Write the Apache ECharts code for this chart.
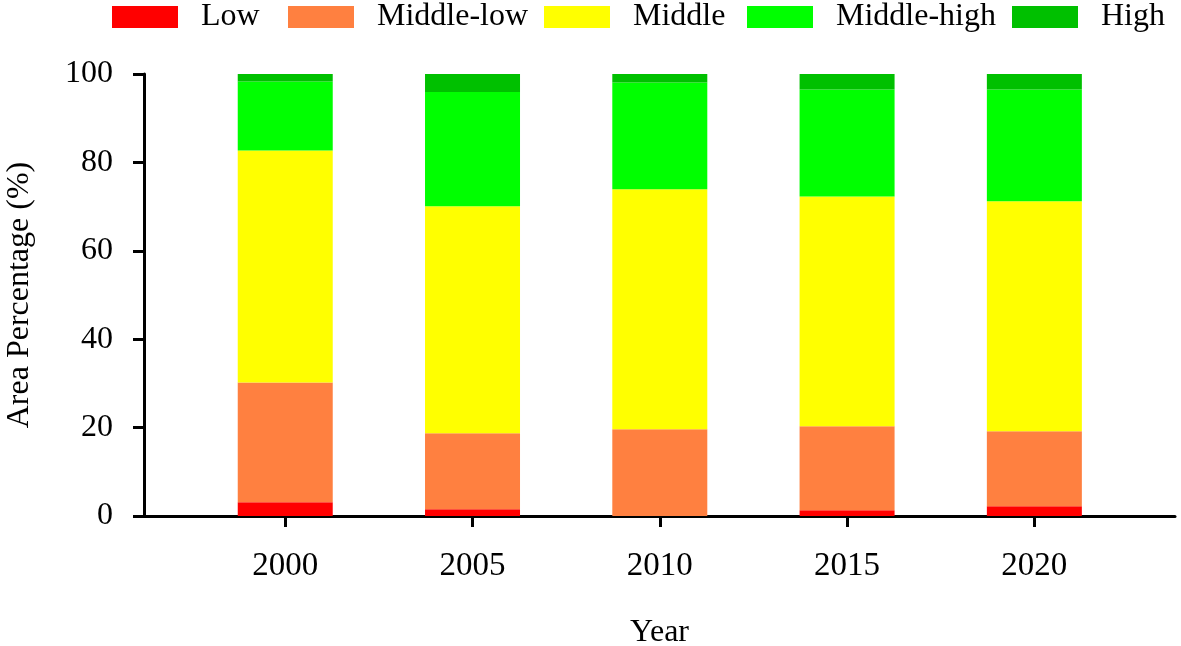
<!DOCTYPE html>
<html>
<head>
<meta charset="utf-8">
<script src="https://cdn.jsdelivr.net/npm/echarts@6/dist/echarts.min.js"></script>
<style>
  html, body { margin: 0; padding: 0; background: #fff; }
  #renderChart { width: 1181px; height: 646px; }
</style>
</head>
<body>
<div id="renderChart"></div>
<script>
// values (percent of area)
const years = ['2000', '2005', '2010', '2015', '2020'];
const low = [3.1, 1.5, 0, 1.3, 2.2];
const middleLow = [27.1, 17.2, 19.6, 19.0, 17.0];
const middle = [52.5, 51.4, 54.3, 52.0, 52.0];
const middleHigh = [15.6, 25.8, 24.2, 24.2, 25.3];
const high = [1.7, 4.1, 1.9, 3.5, 3.5];

const levels = [
  { name: 'Low', values: low, color: '#ff0000', left: 112 },
  { name: 'Middle-low', values: middleLow, color: '#ff8040', left: 288 },
  { name: 'Middle', values: middle, color: '#ffff00', left: 544 },
  { name: 'Middle-high', values: middleHigh, color: '#00ff00', left: 747 },
  { name: 'High', values: high, color: '#00c000', left: 1012 }
];

const font = "'Liberation Serif', 'Times New Roman', serif";
const black = { color: '#000', width: 3 };

const myChart = echarts.init(document.getElementById('renderChart'));

// grid 0 holds the visible frame (axis line runs past the outer bars),
// grid 1 holds the bars on a hidden category axis lined up with it
const option = {
  animation: false,
  textStyle: { fontFamily: font, color: '#000' },
  legend: levels.map(l => ({
    data: [l.name],
    left: l.left,
    top: 1,
    padding: 0,
    itemWidth: 66,
    itemHeight: 22,
    icon: 'rect',
    textStyle: { fontFamily: font, fontSize: 32, color: '#000', padding: [0, 0, 0, 18] }
  })),
  grid: [
    { left: 144, right: 6, top: 74, bottom: 130, outerBoundsMode: 'none' },
    { left: 191.6, right: 53, top: 74, bottom: 130, outerBoundsMode: 'none' }
  ],
  xAxis: [
    {
      gridIndex: 0,
      type: 'category',
      data: years,
      boundaryGap: true,
      name: 'Year',
      nameLocation: 'middle',
      nameGap: 101,
      nameTextStyle: { fontFamily: font, fontSize: 32, color: '#000' },
      axisLine: { show: true, lineStyle: black },
      axisTick: { show: false },
      axisLabel: { show: false }
    },
    {
      gridIndex: 1,
      type: 'category',
      data: years,
      axisLine: { show: false },
      axisTick: { show: true, alignWithLabel: true, length: 11, lineStyle: black },
      axisLabel: { fontFamily: font, fontSize: 33, color: '#000', margin: 34 }
    }
  ],
  yAxis: [
    {
      gridIndex: 0,
      type: 'value',
      min: 0,
      max: 100,
      interval: 20,
      splitLine: { show: false },
      name: 'Area Percentage (%)',
      nameLocation: 'middle',
      nameGap: 108,
      nameTextStyle: { fontFamily: font, fontSize: 32, color: '#000' },
      axisLine: { show: true, lineStyle: black },
      axisTick: { show: true, length: 11, lineStyle: black },
      axisLabel: { fontFamily: font, fontSize: 32, color: '#000', margin: 31 }
    },
    {
      gridIndex: 1,
      type: 'value',
      min: 0,
      max: 100,
      show: false
    }
  ],
  series: levels.map(l => ({
    name: l.name,
    type: 'bar',
    xAxisIndex: 1,
    yAxisIndex: 1,
    stack: 'area',
    barWidth: 95,
    itemStyle: { color: l.color },
    data: l.values
  }))
};

myChart.setOption(option);
</script>
</body>
</html>
